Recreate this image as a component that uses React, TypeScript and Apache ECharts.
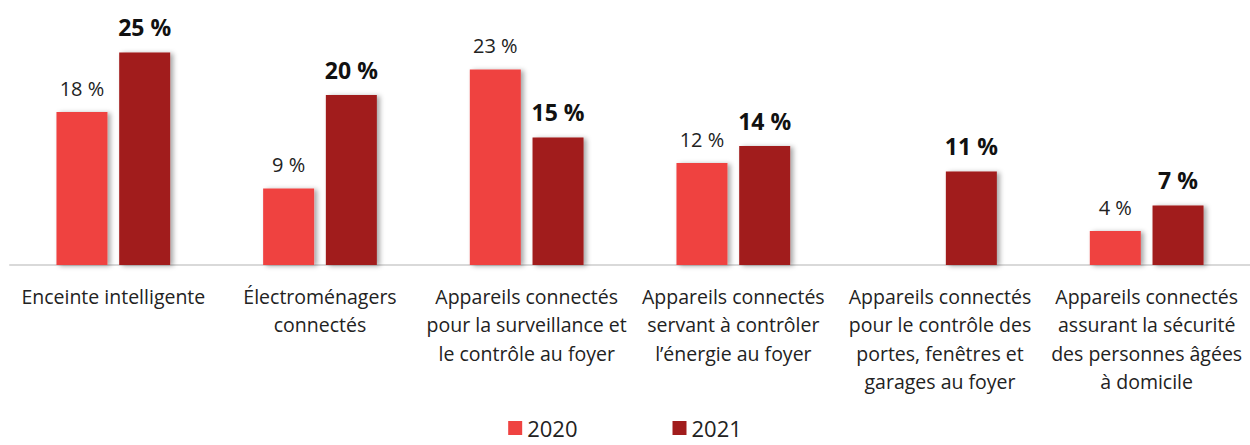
import React, { useEffect, useRef } from "react";
import * as echarts from "echarts";

const categories = [
  "Enceinte intelligente",
  "Électroménagers\nconnectés",
  "Appareils connectés\npour la surveillance et\nle contrôle au foyer",
  "Appareils connectés\nservant à contrôler\nl’énergie au foyer",
  "Appareils connectés\npour le contrôle des\nportes, fenêtres et\ngarages au foyer",
  "Appareils connectés\nassurant la sécurité\ndes personnes âgées\nà domicile",
];
const values2020: (number | null)[] = [18, 9, 23, 12, null, 4];
const values2021: number[] = [25, 20, 15, 14, 11, 7];
const seriesNames = ["2020", "2021"];

const FONT = "'Open Sans', 'Noto Sans', sans-serif";

export default function App() {
  const ref = useRef<HTMLDivElement>(null);
  useEffect(() => {
    if (!ref.current) return;
    const chart = echarts.init(ref.current, null, { renderer: "svg" });
    const shadow = {
      shadowColor: "rgba(0,0,0,0.35)",
      shadowBlur: 5,
      shadowOffsetX: 3,
      shadowOffsetY: 1,
    };
    chart.setOption({
      animation: false,
      textStyle: { fontFamily: FONT },
      grid: { left: 10, right: -1, top: 10, height: 255, containLabel: false },
      legend: {
        bottom: 0,
        left: "center",
        itemWidth: 14,
        itemHeight: 14,
        itemGap: 95,
        icon: "rect",
        textStyle: { fontSize: 22, color: "#222", fontFamily: FONT, lineHeight: 24 },
        data: seriesNames,
      },
      xAxis: {
        type: "category",
        data: categories,
        axisLine: { lineStyle: { color: "#d9d9d9", width: 2 } },
        axisTick: { show: false },
        axisLabel: {
          interval: 0,
          fontSize: 19.5,
          color: "#222",
          lineHeight: 28.5,
          margin: 17,
          verticalAlign: "top",
        },
      },
      yAxis: {
        type: "value",
        min: 0,
        max: 30,
        show: false,
        splitLine: { show: false },
      },
      series: [
        {
          name: seriesNames[0],
          type: "bar",
          data: values2020,
          barWidth: 51,
          barGap: "23%",
          itemStyle: { color: "#EF4341", ...shadow },
          label: {
            show: true,
            position: "top",
            distance: 14,
            fontSize: 20,
            color: "#222",
            formatter: (p: any) => `${p.value} %`,
          },
        },
        {
          name: seriesNames[1],
          type: "bar",
          data: values2021,
          barWidth: 51,
          itemStyle: { color: "#A11C1C", ...shadow },
          label: {
            show: true,
            position: "top",
            distance: 14,
            fontSize: 23,
            fontWeight: "bold",
            color: "#111",
            formatter: (p: any) => `${p.value} %`,
          },
        },
      ],
    });
    return () => chart.dispose();
  }, []);
  return (
    <div
      ref={ref}
      style={{ position: "fixed", left: 0, top: 0, width: 1250, height: 445, background: "#fff" }}
    />
  );
}
